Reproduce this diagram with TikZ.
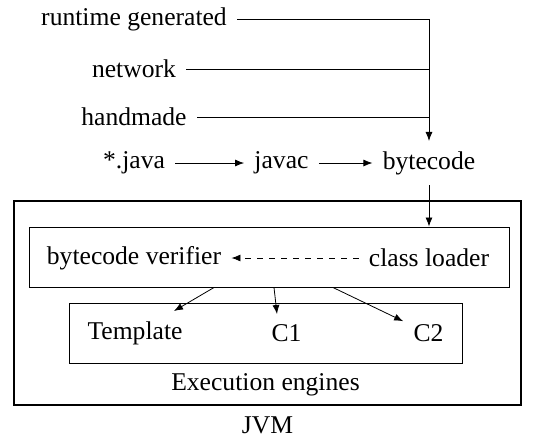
\documentclass[tikz,border=0pt]{standalone}
\usepackage{fontspec}
\setmainfont{Liberation Serif}
\usetikzlibrary{positioning, arrows.meta}

\begin{document}
\begin{tikzpicture}[x=0.5pt, y=-0.5pt,
        font=\fontsize{12.8}{15}\selectfont,
        >={Latex[length=4.5pt, width=3.5pt]},
        txt/.style={inner sep=5pt},
        frame/.style={draw, line width=0.5pt, inner sep=0pt}]
        \useasboundingbox (0,0) rectangle (537,436);

        % sources
        \node[txt] (rt) at (134,19) {runtime generated};
        \node[txt] (net) at (134,69) {network};
        \node[txt] (hand) at (134,117) {handmade};
        \node[txt] (src) at (134,163) {*.java};
        \node[txt] (javac) at (281.5,163) {javac};
        \node[txt] (bc) at (429,163) {bytecode};

        % jvm
        \node[frame, line width=1pt, minimum width=253.5pt, minimum height=102pt] (jvm) at (267.5,303) {};
        \node[frame, minimum width=240pt, minimum height=30pt] (loadbox) at (269,257) {};
        \node[frame, minimum width=196.5pt, minimum height=30pt] (engbox) at (265.5,333) {};
        \node[txt, below=0pt of engbox] (exec) {Execution engines};
        \node[txt, below=0pt of jvm] (jvmlabel) {JVM};

        \node[txt] (verifier) at (134,258) {bytecode verifier};
        \node[txt] (loader) at (429,258) {class loader};
        \node[txt] (tpl) at (135,333) {Template};
        \node[txt] (c1) at (286.5,333) {C1};
        \node[txt] (c2) at (428.5,333) {C2};

        \draw[->] (rt) -- (rt -| bc) -- (bc);
        \draw (net) -- (net -| bc);
        \draw (hand) -- (hand -| bc);
        \draw[->] (src) -- (javac);
        \draw[->] (javac) -- (bc);
        \draw[->] (bc) -- (bc |- loadbox.north);
        \draw[->, dashed] (loader) -- (verifier);

        \draw[->] ([xshift=-27.5pt]loadbox.south) -- ([xshift=19.5pt]tpl.north);
        \draw[->] ([xshift=2.5pt]loadbox.south) -- ([xshift=-4.75pt]c1.north);
        \draw[->] ([xshift=32pt]loadbox.south) -- (c2.155);
\end{tikzpicture}
\end{document}
